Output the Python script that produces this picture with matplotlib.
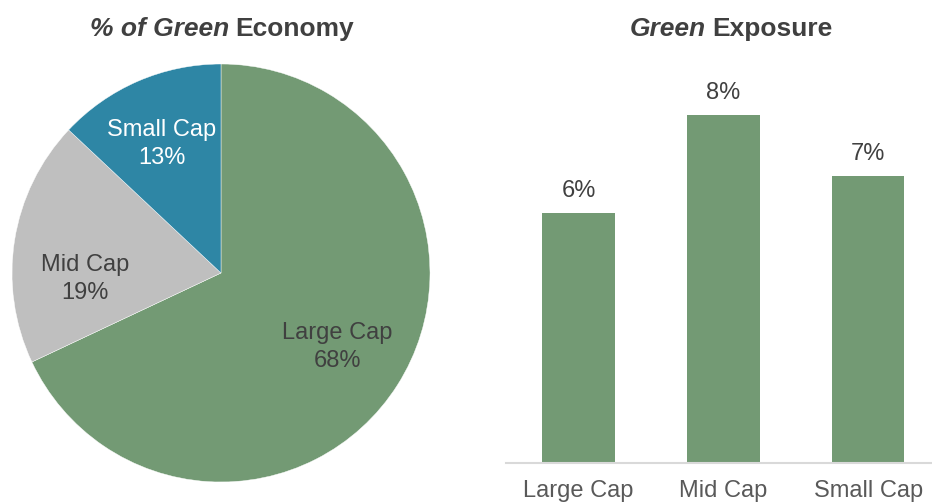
import numpy as np
import matplotlib
matplotlib.use("Agg")
from matplotlib import pyplot as plt

plt.rcParams['font.family'] = ['Liberation Sans', 'DejaVu Sans']

# data
pie_labels = ['Large Cap', 'Mid Cap', 'Small Cap']
pie_shares = [68, 19, 13]
pie_colors = ['#739a74', '#bfbfbf', '#2e86a5']
pie_text_colors = ['#404040', '#404040', '#ffffff']

bar_labels = ['Large Cap', 'Mid Cap', 'Small Cap']
bar_values = [5.75, 8.0, 6.6]
bar_text = ['6%', '8%', '7%']
bar_color = '#739a74'

TXT = '#404040'
W, H = 932, 504
fig = plt.figure(figsize=(W / 100, H / 100), dpi=100)


def px_axes(x0, y0, x1, y1):
    # pixel box (top-left origin) -> figure axes
    return fig.add_axes([x0 / W, 1 - y1 / H, (x1 - x0) / W, (y1 - y0) / H])


def mixed_title(xc, yc, parts, size=19):
    r = fig.canvas.get_renderer()
    texts, widths = [], []
    for s, st in parts:
        t = fig.text(0, 1 - yc / H, s, fontsize=size, fontweight='bold', style=st,
                     color=TXT, ha='left', va='center')
        texts.append(t)
        widths.append(t.get_window_extent(r).width)
    gap = 0.22 * size * 100 / 72
    total = sum(widths) + gap * (len(parts) - 1)
    x = xc - total / 2
    for t, w in zip(texts, widths):
        t.set_x(x / W)
        x += w + gap


# pie
ax1 = px_axes(12, 64, 430, 482)
wedges, texts = ax1.pie(pie_shares, labels=[f'{l}\n{v}%' for l, v in zip(pie_labels, pie_shares)],
                        colors=pie_colors, startangle=90, counterclock=False,
                        labeldistance=0.66, radius=1,
                        wedgeprops=dict(edgecolor='white', linewidth=0.3),
                        textprops=dict(fontsize=17, ha='center', va='center', linespacing=1.35))
for t, c in zip(texts, pie_text_colors):
    t.set_color(c)
    t.set_horizontalalignment('center')
# Mid Cap label sits a little lower in the original
mx, my = texts[1].get_position()
texts[1].set_position((mx, my - 0.13))
sx, sy = texts[2].get_position()
texts[2].set_position((sx - 0.02, sy + 0.01))
ax1.set_xlim(-1, 1)
ax1.set_ylim(-1, 1)
ax1.set_aspect('equal')

# bars
ax2 = px_axes(506, 50, 932, 463)
x = np.arange(len(bar_labels))
bars = ax2.bar(x, bar_values, width=0.5, color=bar_color)
for b, s in zip(bars, bar_text):
    ax2.text(b.get_x() + b.get_width() / 2, b.get_height() + 0.25, s,
             ha='center', va='bottom', fontsize=17, color=TXT)
ax2.set_xlim(-0.5, 2.44)
ax2.set_ylim(0, 9.49)
ax2.set_xticks(x)
ax2.set_xticklabels(bar_labels, fontsize=17, color='#595959')
ax2.tick_params(axis='x', length=0, pad=12)
ax2.set_yticks([])
for sp in ['top', 'right', 'left']:
    ax2.spines[sp].set_visible(False)
ax2.spines['bottom'].set_color('#d9d9d9')
ax2.spines['bottom'].set_linewidth(1.5)

mixed_title(222, 29, [('% of Green', 'italic'), ('Economy', 'normal')])
mixed_title(731, 29, [('Green', 'italic'), ('Exposure', 'normal')])

fig.savefig('out.png', dpi=100)
